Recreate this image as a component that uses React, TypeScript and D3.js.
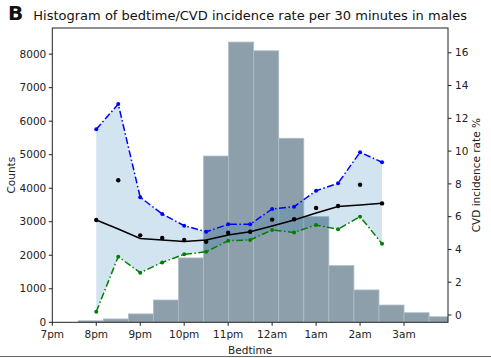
import React from "react";
import * as d3 from "d3";

const binEdges = [19.59, 20.16, 20.73, 21.3, 21.87, 22.44, 23.01, 23.58, 24.15, 24.72, 25.29, 25.86, 26.43, 27.0, 27.57, 28.14];
const binCounts = [45, 100, 250, 665, 1920, 4960, 8360, 8100, 5490, 3150, 1690, 965, 515, 285, 165];

const timePoints = [20, 20.5, 21, 21.5, 22, 22.5, 23, 23.5, 24, 24.5, 25, 25.5, 26, 26.5];
const upperRate = [11.33, 12.87, 7.18, 6.16, 5.45, 5.08, 5.53, 5.53, 6.47, 6.61, 7.58, 8.04, 9.93, 9.32];
const lowerRate = [0.2, 3.56, 2.58, 3.21, 3.7, 3.86, 4.53, 4.58, 5.19, 5.04, 5.49, 5.23, 6.0, 4.35];
const observedRate = [5.8, 8.22, 4.86, 4.7, 4.58, 4.47, 5.02, 5.08, 5.82, 5.84, 6.53, 6.65, 7.95, 6.81];
const trendRate = [5.8, 5.25, 4.67, 4.58, 4.48, 4.58, 4.88, 5.08, 5.43, 5.8, 6.22, 6.62, 6.71, 6.82];

const xTickValues = [19, 20, 21, 22, 23, 24, 25, 26, 27];
const xTickLabels = ["7pm", "8pm", "9pm", "10pm", "11pm", "12am", "1am", "2am", "3am"];
const countTicks = [0, 1000, 2000, 3000, 4000, 5000, 6000, 7000, 8000];
const rateTicks = [0, 2, 4, 6, 8, 10, 12, 14, 16];

const W = 491;
const H = 358;
const L = 52.3, R = 448, T = 28, B = 322.3;
const FONT = "DejaVu Sans, sans-serif";

export default function App() {
  const x = d3.scaleLinear().domain([19, 28]).range([L, R]);
  const yL = d3.scaleLinear().domain([0, 8780]).range([B, T]);
  const yR = d3.scaleLinear().domain([-0.445, 17.51]).range([B, T]);

  const area = d3
    .area<number>()
    .x((_, i) => x(timePoints[i]))
    .y0((_, i) => yR(lowerRate[i]))
    .y1((_, i) => yR(upperRate[i]));
  const line = (vals: number[]) =>
    d3
      .line<number>()
      .x((_, i) => x(timePoints[i]))
      .y((d) => yR(d))(vals) || "";

  const dashDot = "7,2.5,1.5,2.5";

  return (
    <svg width={W} height={H} style={{ position: "absolute", left: 0, top: 0 }} fontFamily={FONT}>
      <rect width={W} height={H} fill="#fff" />
      <defs>
        <clipPath id="plot">
          <rect x={L} y={T} width={R - L} height={B - T} />
        </clipPath>
      </defs>
      <g clipPath="url(#plot)">
        {binCounts.map((c, i) => (
          <rect
            key={i}
            x={x(binEdges[i])}
            y={yL(c)}
            width={x(binEdges[i + 1]) - x(binEdges[i])}
            height={B - yL(c)}
            fill="#8e9fac"
            stroke="#aebcc7"
            strokeWidth={0.8}
          />
        ))}
        <path d={area(timePoints) || ""} fill="#1f77b4" fillOpacity={0.2} />
        <path d={line(upperRate)} fill="none" stroke="#0000ff" strokeWidth={1.5} strokeDasharray={dashDot} />
        <path d={line(lowerRate)} fill="none" stroke="#008000" strokeWidth={1.5} strokeDasharray={dashDot} />
        <path d={line(trendRate)} fill="none" stroke="#000" strokeWidth={1.5} />
        {upperRate.map((v, i) => (
          <circle key={"u" + i} cx={x(timePoints[i])} cy={yR(v)} r={2} fill="#0000ff" />
        ))}
        {lowerRate.map((v, i) => (
          <circle key={"l" + i} cx={x(timePoints[i])} cy={yR(v)} r={2} fill="#008000" />
        ))}
        {observedRate.map((v, i) => (
          <circle key={"o" + i} cx={x(timePoints[i])} cy={yR(v)} r={2.2} fill="#000" />
        ))}
      </g>
      <rect x={L} y={T} width={R - L} height={B - T} fill="none" stroke="#222" strokeWidth={1} />
      {/* left axis */}
      {countTicks.map((t) => (
        <g key={"c" + t}>
          <line x1={L - 3.5} x2={L} y1={yL(t)} y2={yL(t)} stroke="#222" />
          <text x={L - 6} y={yL(t)} dy="0.35em" textAnchor="end" fontSize={10.5} fill="#222">
            {t}
          </text>
        </g>
      ))}
      {/* right axis */}
      {rateTicks.map((t) => (
        <g key={"r" + t}>
          <line x1={R} x2={R + 3.5} y1={yR(t)} y2={yR(t)} stroke="#222" />
          <text x={R + 7} y={yR(t)} dy="0.35em" textAnchor="start" fontSize={10.5} fill="#222">
            {t}
          </text>
        </g>
      ))}
      {/* bottom axis */}
      {xTickValues.map((t, i) => (
        <g key={"x" + t}>
          <line x1={x(t)} x2={x(t)} y1={B} y2={B + 3.5} stroke="#222" />
          <text x={x(t)} y={B + 15.5} textAnchor="middle" fontSize={10.5} fill="#222">
            {xTickLabels[i]}
          </text>
        </g>
      ))}
      <text x={(L + R) / 2} y={354} textAnchor="middle" fontSize={10.5} fill="#222">
        Bedtime
      </text>
      <text transform={`translate(15,${(T + B) / 2}) rotate(-90)`} textAnchor="middle" fontSize={10.5} fill="#222">
        Counts
      </text>
      <text transform={`translate(480,${(T + B) / 2}) rotate(-90)`} textAnchor="middle" fontSize={10.5} fill="#222">
        CVD incidence rate %
      </text>
      <text x={(L + R) / 2} y={20} textAnchor="middle" fontSize={13} fill="#111">
        Histogram of bedtime/CVD incidence rate per 30 minutes in males
      </text>
      <text x={8} y={20} fontSize={20} fontWeight="bold" fill="#111">
        B
      </text>
      <line x1={0} x2={W} y1={356.5} y2={356.5} stroke="#666" strokeWidth={1} />
    </svg>
  );
}
